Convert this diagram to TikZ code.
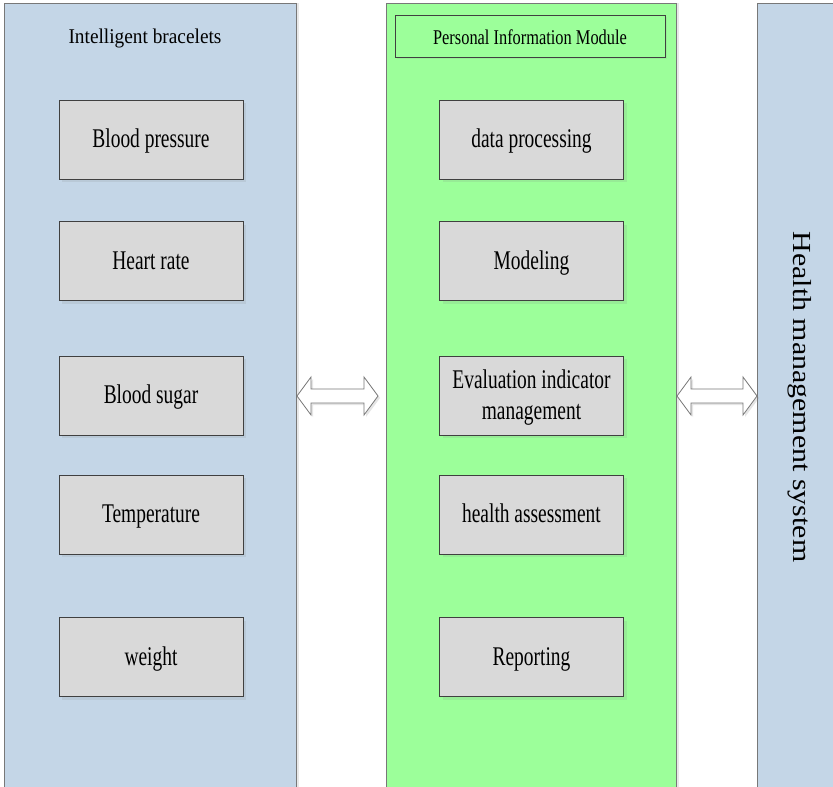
\documentclass[tikz,border=0pt]{standalone}
\usepackage{fontspec}
\setmainfont{Liberation Serif}
\newfontfamily\boxfont{Liberation Serif}[FakeStretch=0.72]
\newfontfamily\titlefont{Liberation Serif}[FakeStretch=0.92]
\newfontfamily\pimfont{Liberation Serif}[FakeStretch=0.78]
\newfontfamily\hmsfont{Liberation Serif}[FakeStretch=1.15]
\usetikzlibrary{shadows}
\definecolor{colblue}{RGB}{196,214,231}
\definecolor{colgreen}{RGB}{156,255,154}
\definecolor{boxgray}{RGB}{217,217,217}
\definecolor{boxline}{RGB}{64,64,64}
\definecolor{colline}{RGB}{120,120,120}
\tikzset{
  column/.style={draw=colline, line width=1pt, drop shadow={shadow xshift=3pt, shadow yshift=0pt, opacity=0.18}},
  itembox/.style={draw=boxline, fill=boxgray, line width=1pt, minimum width=184pt, minimum height=79pt,
     inner sep=0pt, align=center, font=\boxfont\fontsize{27}{31}\selectfont,
     drop shadow={shadow xshift=3pt, shadow yshift=-3pt, opacity=0.15}},
  oneline/.style={text height=20pt, text depth=4pt},
  header/.style={draw=boxline, fill=colgreen, line width=0.8pt, minimum width=270pt, minimum height=42pt,
     inner sep=0pt, font=\pimfont\fontsize{21}{24}\selectfont, text height=16pt, text depth=0pt,
     drop shadow={shadow xshift=2pt, shadow yshift=-2pt, opacity=0.12}},
  dblarrow/.style={draw=colline, fill=white, line width=0.8pt, line join=miter,
     drop shadow={shadow xshift=2pt, shadow yshift=-2pt, opacity=0.2}},
}
\newcommand{\dblarrowpath}[4]{% #1 left tip x, #2 right tip x, #3 head length, #4 centre y
  \path[dblarrow] (#1,#4) -- (#1+#3,#4-19) -- (#1+#3,#4-7) -- (#2-#3,#4-7) -- (#2-#3,#4-19)
     -- (#2,#4) -- (#2-#3,#4+19) -- (#2-#3,#4+7) -- (#1+#3,#4+7) -- (#1+#3,#4+19) -- cycle;}
\begin{document}
\begin{tikzpicture}[x=1pt,y=-1pt]
\useasboundingbox (0,0) rectangle (833,787);
\clip (0,0) rectangle (833,787);
\fill[white] (0,0) rectangle (833,787);
% columns
\path[column, fill=colblue] (4,3) rectangle (296,800);
\path[column, fill=colgreen] (386,3) rectangle (676,800);
\path[column, fill=colblue] (757,3) rectangle (845,800);
% titles
\node[font=\titlefont\fontsize{21}{24}\selectfont] (tib) at (145,38.5) {Intelligent bracelets};
\node[header] (pim) at (530,36) {Personal Information Module};
\node[rotate=-90, font=\hmsfont\fontsize{26}{30}\selectfont] (hms) at (800,397) {Health management system};
% left items
\node[itembox, oneline] (bp) at (151,139.5) {Blood pressure};
\node[itembox, oneline] (hr) at (151,261) {Heart rate};
\node[itembox, oneline] (bs) at (151,395.5) {Blood sugar};
\node[itembox, oneline] (tp) at (151,514.5) {Temperature};
\node[itembox, oneline] (wt) at (151,657) {weight};
% green items
\node[itembox, oneline] (dp) at (531.5,139.5) {data processing};
\node[itembox, oneline] (md) at (531.5,261) {Modeling};
\node[itembox] (ei) at (531.5,395.5) {\rule{0pt}{22pt}Evaluation indicator\\management};
\node[itembox, oneline] (ha) at (531.5,514.5) {health assessment};
\node[itembox, oneline] (rp) at (531.5,657) {Reporting};
% double arrows
\dblarrowpath{297}{378}{14}{396}
\dblarrowpath{677}{757}{14}{396}
\end{tikzpicture}
\end{document}
